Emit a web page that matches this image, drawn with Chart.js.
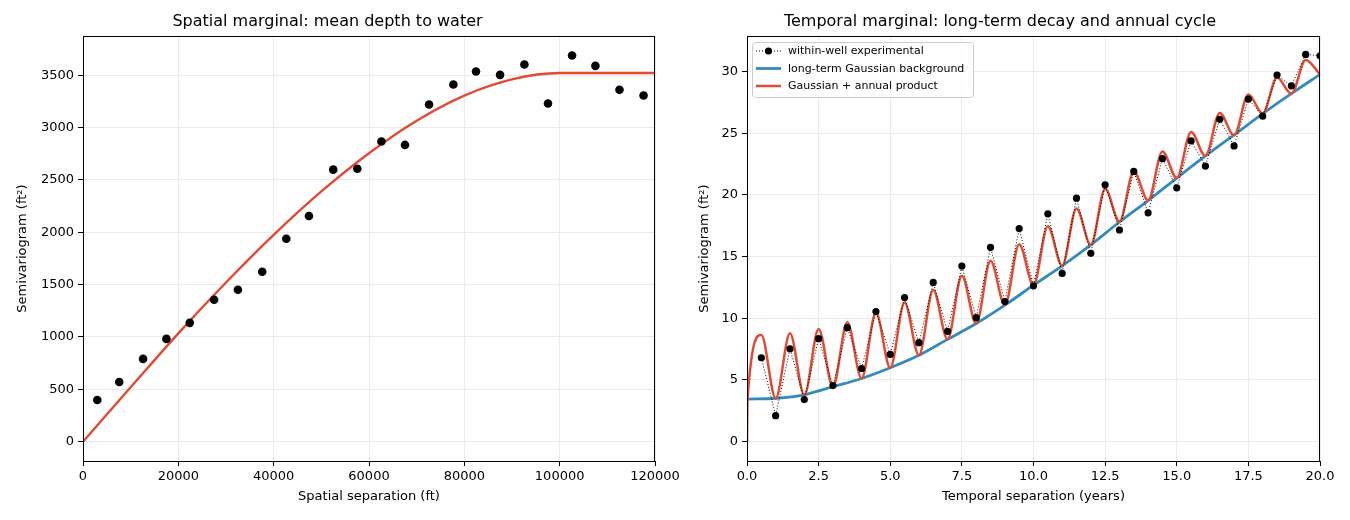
<!DOCTYPE html>
<html>
<head>
<meta charset="utf-8">
<script src="https://cdn.jsdelivr.net/npm/chart.js@4.4.1/dist/chart.umd.min.js"></script>
<style>
  html, body { margin: 0; padding: 0; background: #fff; }
  #wrap { position: relative; width: 1350px; height: 520px; }
  canvas { position: absolute; top: 0; }
  #spatialChart { left: 0; }
  #temporalChart { left: 680px; }
</style>
</head>
<body>
<div id="wrap">
  <canvas id="spatialChart" width="680" height="520"></canvas>
  <canvas id="temporalChart" width="670" height="520"></canvas>
</div>
<script>
// Spatial marginal - experimental points
const spatialLag = [3000, 7600, 12600, 17500, 22400, 27500, 32500, 37600, 42650, 47400,
  52500, 57550, 62600, 67550, 72600, 77700, 82450, 87500, 92600, 97550,
  102600, 107500, 112550, 117600];
const spatialGamma = [399, 571, 791, 982, 1135, 1355, 1451, 1623, 1938, 2155,
  2598, 2607, 2866, 2834, 3220, 3411, 3535, 3503, 3602, 3229,
  3688, 3589, 3360, 3306];

// Spatial marginal - fitted model
const spatialModelLag = [0, 10000, 20000, 30000, 40000, 50000, 60000, 70000, 80000, 90000, 100000, 110000, 120000];
const spatialModelGamma = [0, 520, 1035, 1520, 1975, 2390, 2755, 3065, 3305, 3460, 3520, 3520, 3520];

const spatialXTicks = [0, 20000, 40000, 60000, 80000, 100000, 120000];
const spatialYTicks = [0, 500, 1000, 1500, 2000, 2500, 3000, 3500];

// Temporal marginal - within-well experimental
const temporalLag = [0.5, 1, 1.5, 2, 2.5, 3, 3.5, 4, 4.5, 5, 5.5, 6, 6.5, 7, 7.5, 8, 8.5, 9, 9.5, 10,
  10.5, 11, 11.5, 12, 12.5, 13, 13.5, 14, 14.5, 15, 15.5, 16, 16.5, 17, 17.5, 18, 18.5, 19, 19.5, 20];
const temporalGamma = [6.8, 2.11, 7.53, 3.41, 8.35, 4.55, 9.24, 5.93, 10.54, 7.07,
  11.68, 8.02, 12.9, 8.94, 14.23, 10.05, 15.75, 11.35, 17.27, 12.63,
  18.46, 13.63, 19.73, 15.26, 20.81, 17.15, 21.9, 18.54, 22.93, 20.57,
  24.37, 22.33, 26.12, 23.96, 27.75, 26.37, 29.7, 28.83, 31.38, 31.27];

// Temporal marginal - long-term Gaussian background
const backgroundLag = [0, 1, 2, 3, 4, 5, 6, 7, 8, 9, 10, 11, 12, 13, 14, 15, 16, 17, 18, 19, 20];
const backgroundGamma = [3.45, 3.52, 3.8, 4.45, 5.12, 5.99, 7.0, 8.29, 9.57, 11.06, 12.68,
  14.25, 15.95, 17.8, 19.54, 21.36, 23.15, 24.85, 26.58, 28.2, 29.76];

// Temporal marginal - Gaussian + annual product (peaks and troughs)
const productLag = [0, 0.02, 0.5, 1, 1.5, 2, 2.5, 3, 3.5, 4, 4.5, 5, 5.5, 6, 6.5, 7, 7.5, 8, 8.5, 9, 9.5, 10,
  10.5, 11, 11.5, 12, 12.5, 13, 13.5, 14, 14.5, 15, 15.5, 16, 16.5, 17, 17.5, 18, 18.5, 19, 19.5, 20];
const productGamma = [0, 3.5, 8.64, 3.5, 8.78, 3.77, 9.13, 4.45, 9.67, 5.12, 10.46, 5.99, 11.27, 7.0, 12.28, 8.29,
  13.44, 9.57, 14.66, 11.06, 16.0, 12.68, 17.45, 14.25, 18.9, 15.93, 20.5, 17.83, 21.9, 19.54,
  23.52, 21.36, 25.1, 23.15, 26.64, 24.82, 28.13, 26.58, 29.51, 28.2, 30.92, 29.76];

const temporalXTicks = [0, 2.5, 5, 7.5, 10, 12.5, 15, 17.5, 20];
const temporalYTicks = [0, 5, 10, 15, 20, 25, 30];

const red = '#e24a33';
const blue = '#348abd';
const fontFamily = "'DejaVu Sans', sans-serif";
const gridColor = '#ebebeb';

const toPoints = (xs, ys) => xs.map((x, i) => ({ x: x, y: ys[i] }));

Chart.defaults.font.family = fontFamily;
Chart.defaults.color = '#000';

// matplotlib style box round the plot area
const framePlugin = {
  id: 'frame',
  afterDraw(chart) {
    const { ctx, chartArea } = chart;
    ctx.save();
    ctx.strokeStyle = '#000';
    ctx.lineWidth = 1;
    ctx.strokeRect(Math.round(chartArea.left) + 0.5, Math.round(chartArea.top) + 0.5,
      Math.round(chartArea.right - chartArea.left) - 1, Math.round(chartArea.bottom - chartArea.top));
    ctx.restore();
  }
};

// legend drawn inside the plot area, upper left
const innerLegend = {
  id: 'innerLegend',
  afterDraw(chart) {
    const { ctx, chartArea } = chart;
    const x0 = chartArea.left + 5;
    const y0 = chartArea.top + 6;
    ctx.save();
    ctx.fillStyle = 'rgba(255,255,255,0.8)';
    ctx.strokeStyle = '#cccccc';
    ctx.lineWidth = 1;
    ctx.beginPath();
    ctx.roundRect(x0 + 0.5, y0 + 0.5, 221, 55, 3);
    ctx.fill();
    ctx.stroke();
    ctx.font = '11px ' + fontFamily;
    ctx.textBaseline = 'middle';
    chart.data.datasets.forEach((ds, i) => {
      const y = y0 + 9 + i * 17.5;
      const lx = x0 + 4;
      ctx.strokeStyle = ds.borderColor;
      ctx.lineWidth = ds.borderWidth;
      ctx.setLineDash(ds.borderDash || []);
      ctx.beginPath();
      ctx.moveTo(lx, y);
      ctx.lineTo(lx + 25, y);
      ctx.stroke();
      ctx.setLineDash([]);
      if (ds.pointRadius) {
        ctx.fillStyle = ds.pointBackgroundColor;
        ctx.beginPath();
        ctx.arc(lx + 12.5, y, ds.pointRadius, 0, Math.PI * 2);
        ctx.fill();
      }
      ctx.fillStyle = '#000';
      ctx.fillText(ds.label, lx + 32, y + 0.5);
    });
    ctx.restore();
  }
};

function axisTitle(text, pad) {
  return { display: true, text: text, font: { size: 13 }, padding: pad };
}

function baseOptions(opts) {
  return {
    responsive: false,
    animation: false,
    layout: { padding: { top: 0, left: 0, bottom: 0, right: opts.rightPad } },
    plugins: {
      legend: { display: false },
      tooltip: { enabled: false },
      title: {
        display: true,
        text: opts.title,
        font: { size: 16, weight: 'normal' },
        padding: { top: 12.5, bottom: 4.3 }
      }
    },
    scales: {
      x: {
        type: 'linear',
        min: opts.xMin,
        max: opts.xMax,
        afterBuildTicks: scale => { scale.ticks = opts.xTicks.map(v => ({ value: v })); },
        afterFit: scale => {
          scale.height = 59;
          scale.paddingLeft = 0;
          scale.paddingRight = 0;
        },
        grid: { color: gridColor, tickColor: '#000', tickLength: 5 },
        border: { color: '#000' },
        ticks: {
          padding: 3,
          maxRotation: 0,
          autoSkip: false,
          font: { size: 13 },
          callback: opts.xFormat
        },
        title: axisTitle(opts.xTitle, { top: 0, bottom: 15.6 })
      },
      y: {
        type: 'linear',
        min: opts.yMin,
        max: opts.yMax,
        afterBuildTicks: scale => { scale.ticks = opts.yTicks.map(v => ({ value: v })); },
        afterFit: scale => {
          scale.width = opts.yWidth;
          scale.paddingTop = 0;
          scale.paddingBottom = 0;
        },
        grid: { color: gridColor, tickColor: '#000', tickLength: 5 },
        border: { color: '#000' },
        ticks: {
          padding: 4,
          autoSkip: false,
          font: { size: 13 },
          callback: v => String(v)
        },
        title: axisTitle('Semivariogram (ft\u00b2)', { top: opts.yTitlePad, bottom: 0 })
      }
    }
  };
}

const spatialChart = new Chart(document.getElementById('spatialChart'), {
  type: 'scatter',
  data: {
    datasets: [{
      label: 'experimental',
      data: toPoints(spatialLag, spatialGamma),
      pointRadius: 4.3,
      pointBackgroundColor: '#000',
      pointBorderWidth: 0,
      showLine: false,
      order: 0
    }, {
      label: 'spherical model',
      data: toPoints(spatialModelLag, spatialModelGamma),
      showLine: true,
      borderColor: red,
      borderWidth: 2.4,
      pointRadius: 0,
      cubicInterpolationMode: 'monotone',
      order: 1
    }]
  },
  options: baseOptions({
    title: 'Spatial marginal: mean depth to water',
    rightPad: 25,
    xMin: 0, xMax: 120000, xTicks: spatialXTicks,
    xFormat: v => String(v),
    xTitle: 'Spatial separation (ft)',
    yMin: -184, yMax: 3874, yTicks: spatialYTicks,
    yWidth: 83,
    yTitlePad: 14.6
  }),
  plugins: [framePlugin]
});

const temporalChart = new Chart(document.getElementById('temporalChart'), {
  type: 'scatter',
  data: {
    datasets: [{
      label: 'within-well experimental',
      data: toPoints(temporalLag, temporalGamma),
      showLine: true,
      borderColor: '#000',
      borderWidth: 1,
      borderDash: [1, 2],
      pointRadius: 3.6,
      pointBackgroundColor: '#000',
      pointBorderWidth: 0,
      order: 0
    }, {
      label: 'long-term Gaussian background',
      data: toPoints(backgroundLag, backgroundGamma),
      showLine: true,
      borderColor: blue,
      borderWidth: 2.8,
      pointRadius: 0,
      cubicInterpolationMode: 'monotone',
      order: 2
    }, {
      label: 'Gaussian + annual product',
      data: toPoints(productLag, productGamma),
      showLine: true,
      borderColor: red,
      borderWidth: 2.5,
      pointRadius: 0,
      cubicInterpolationMode: 'monotone',
      order: 1
    }]
  },
  options: baseOptions({
    title: 'Temporal marginal: long-term decay and annual cycle',
    rightPad: 30,
    xMin: 0, xMax: 20, xTicks: temporalXTicks,
    xFormat: v => v.toFixed(1),
    xTitle: 'Temporal separation (years)',
    yMin: -1.565, yMax: 32.87, yTicks: temporalYTicks,
    yWidth: 67,
    yTitlePad: 16.6
  }),
  plugins: [framePlugin, innerLegend]
});
</script>
</body>
</html>
